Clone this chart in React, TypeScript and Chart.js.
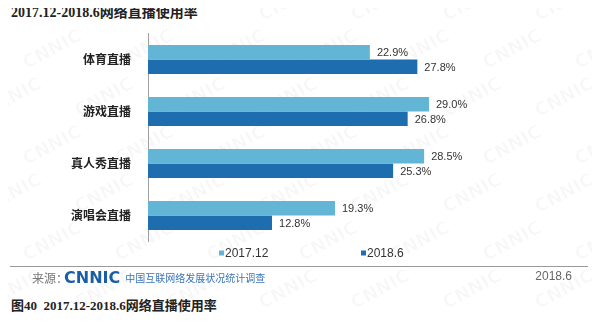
import React, { useEffect, useRef } from "react";
import { Chart, registerables } from "chart.js";

Chart.register(...registerables);

const categories = ["体育直播", "游戏直播", "真人秀直播", "演唱会直播"];
const seriesNames = ["2017.12", "2018.6"];
const values2017 = [22.9, 29.0, 28.5, 19.3];
const values2018 = [27.8, 26.8, 25.3, 12.8];
const seriesColors = ["#63B5D6", "#1E6DAE"];

const valueLabelPlugin = {
  id: "valueLabels",
  afterDatasetsDraw(chart: any) {
    const ctx = chart.ctx;
    ctx.save();
    ctx.font = '11px "Liberation Sans", Arial, sans-serif';
    ctx.fillStyle = "#333";
    ctx.textAlign = "left";
    ctx.textBaseline = "middle";
    chart.data.datasets.forEach((ds: any, di: number) => {
      const meta = chart.getDatasetMeta(di);
      meta.data.forEach((el: any, i: number) => {
        ctx.fillText(Number(ds.data[i]).toFixed(1) + "%", el.x + 7, el.y + 1);
      });
    });
    ctx.restore();
  },
};

const legendPlugin = {
  id: "customLegend",
  afterDraw(chart: any) {
    const ctx = chart.ctx;
    ctx.save();
    ctx.font = '12px "Liberation Sans", Arial, sans-serif';
    ctx.textBaseline = "middle";
    ctx.textAlign = "left";
    const y = 223;
    const starts = [211, 353];
    chart.data.datasets.forEach((ds: any, i: number) => {
      const x = starts[i];
      ctx.fillStyle = ds.backgroundColor;
      ctx.fillRect(x, y - 2.5, 5, 5);
      ctx.fillStyle = "#333";
      ctx.fillText(ds.label, x + 6, y + 0.5);
    });
    ctx.restore();
  },
};

export default function App() {
  const ref = useRef<HTMLCanvasElement>(null);
  useEffect(() => {
    if (!ref.current) return;
    const chart = new Chart(ref.current, {
      type: "bar",
      data: {
        labels: categories,
        datasets: [
          { label: seriesNames[0], data: values2017, backgroundColor: seriesColors[0] },
          { label: seriesNames[1], data: values2018, backgroundColor: seriesColors[1] },
        ],
      },
      options: {
        indexAxis: "y",
        animation: false,
        responsive: false,
        maintainAspectRatio: false,
        layout: { padding: { top: 3.5, bottom: 28.5, right: 8, left: 0 } },
        datasets: { bar: { categoryPercentage: 0.558, barPercentage: 1 } },
        plugins: { legend: { display: false }, tooltip: { enabled: false } },
        scales: {
          x: { display: false, min: 0, max: 45 },
          y: {
            afterFit(scale: any) {
              scale.width = 140;
              scale.paddingTop = 0;
              scale.paddingBottom = 0;
            },
            grid: { display: false },
            border: { display: true, color: "#a0a0a0", width: 1 },
            ticks: {
              padding: 9,
              color: "#222",
              font: { family: '"Noto Sans CJK SC", sans-serif', size: 12, weight: "bold" },
            },
          },
        },
      },
      plugins: [valueLabelPlugin, legendPlugin],
    } as any);
    return () => chart.destroy();
  }, []);

  const marks: JSX.Element[] = [];
  for (let r = 0; r < 7; r++) {
    for (let c = 0; c < 7; c++) {
      marks.push(
        <span
          key={r + "-" + c}
          style={{
            position: "absolute",
            left: c * 92 - 20 + (r % 2) * 40,
            top: r * 48 - 10,
            transform: "rotate(-28deg)",
            font: 'bold 18px "DejaVu Sans", sans-serif',
            color: "rgba(0,0,0,0.03)",
            whiteSpace: "nowrap",
          }}
        >
          CNNIC
        </span>
      );
    }
  }

  return (
    <div style={{ position: "relative", width: 584, height: 305, overflow: "visible" }}>
      <div style={{ position: "absolute", left: -8, top: -8, width: 600, height: 321, overflow: "hidden" }}>
        {marks}
      </div>
      <div
        style={{
          position: "absolute",
          left: 3,
          top: -4,
          font: 'bold 14px "Liberation Serif", "Noto Sans CJK SC", serif',
          lineHeight: "18px",
          color: "#222",
          whiteSpace: "nowrap",
        }}
      >
        2017.12-2018.6网络直播使用率
      </div>
      <canvas ref={ref} width={584} height={240} style={{ position: "absolute", left: 0, top: 22, width: 584, height: 240 }} />
      <div style={{ position: "absolute", left: 2, top: 258, width: 578, height: 0, borderTop: "1px solid #999" }} />
      <div
        style={{
          position: "absolute",
          left: 24,
          top: 261,
          height: 16,
          display: "flex",
          alignItems: "center",
          whiteSpace: "nowrap",
        }}
      >
        <span style={{ font: '12px "Noto Sans CJK SC", sans-serif', color: "#777" }}>来源：</span>
        <span
          style={{
            font: 'bold 16px "DejaVu Sans", sans-serif',
            color: "#1B5EA6",
            letterSpacing: 0,
            marginLeft: -4,
          }}
        >
          CNNIC
        </span>
        <span style={{ font: '10px "Noto Sans CJK SC", sans-serif', color: "#3A76B8", marginLeft: 5 }}>
          中国互联网络发展状况统计调查
        </span>
      </div>
      <div
        style={{
          position: "absolute",
          right: 20,
          top: 261,
          height: 16,
          lineHeight: "16px",
          font: '12px "Liberation Sans", Arial, sans-serif',
          color: "#666",
        }}
      >
        2018.6
      </div>
      <div
        style={{
          position: "absolute",
          left: 3,
          top: 287,
          lineHeight: "18px",
          font: 'bold 13px "Liberation Serif", "Noto Sans CJK SC", serif',
          color: "#222",
          whiteSpace: "nowrap",
        }}
      >
        图40&nbsp; 2017.12-2018.6网络直播使用率
      </div>
    </div>
  );
}
